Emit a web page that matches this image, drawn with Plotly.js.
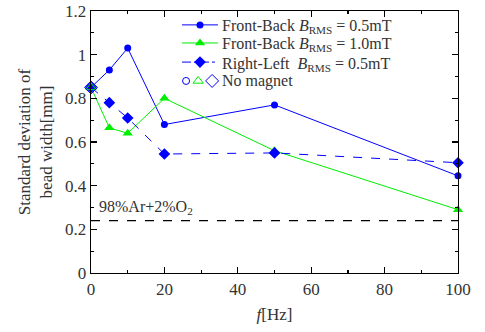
<!DOCTYPE html>
<html><head><meta charset="utf-8">
<script src="https://cdn.plot.ly/plotly-3.0.1.min.js"></script>
<style>body{margin:0;background:#fff}#c{width:485px;height:332px}</style>
</head><body><div id="c"></div>
<script>
const freq = [0, 5, 10, 20, 50, 100];
const fb05 = [0.85, 0.93, 1.03, 0.68, 0.77, 0.445];
const fb10 = [0.85, 0.665, 0.64, 0.80, 0.56, 0.29];
const rl05 = [0.85, 0.78, 0.71, 0.545, 0.55, 0.505];
const noMagnetF = [0];
const noMagnetV = [0.85];
const refX = [0, 100];
const refV = [0.24, 0.24];
const xTicks = [0, 20, 40, 60, 80, 100];
const yTicks = [0, 0.2, 0.4, 0.6, 0.8, 1, 1.2];
const yTickText = ['0', '0.2', '0.4', '0.6', '0.8', '1', '1.2'];
const names = ['Front-Back <i>B</i><sub>RMS</sub> = 0.5mT','Front-Back <i>B</i><sub>RMS</sub> = 1.0mT','Right-Left  <i>B</i><sub>RMS</sub> = 0.5mT','No magnet'];
const BLUE = '#0000ff', GREEN = '#00ee00';
const font = 'Liberation Serif';

// legend layout (paper-fraction positions of the hand-built legend)
const legRows = [0.947, 0.878, 0.805, 0.733];
const legLine = [0.248, 0.346], legMark = 0.297, legText = 0.352;

const traces = [
  {x: refX, y: refV, mode:'lines', line:{color:'#000', width:1.2, dash:'dash'}, showlegend:false},
  {x: freq, y: fb05, mode:'lines+markers', line:{color:BLUE, width:1}, marker:{symbol:'circle', size:7, color:BLUE}, cliponaxis:false, showlegend:false},
  {x: freq, y: fb10, mode:'lines+markers', line:{color:GREEN, width:1}, marker:{symbol:'triangle-up', size:9, color:GREEN}, cliponaxis:false, showlegend:false},
  {x: freq, y: rl05, mode:'lines+markers', line:{color:BLUE, width:1, dash:'dash'}, marker:{symbol:'diamond', size:9, color:BLUE}, cliponaxis:false, showlegend:false},
  {x: noMagnetF, y: noMagnetV, mode:'markers', marker:{symbol:'circle-open', size:7, color:BLUE}, showlegend:false, cliponaxis:false},
  {x: noMagnetF, y: noMagnetV, mode:'markers', marker:{symbol:'triangle-up-open', size:9, color:GREEN}, showlegend:false, cliponaxis:false},
  {x: noMagnetF, y: noMagnetV, mode:'markers', marker:{symbol:'diamond-open', size:10, color:BLUE, line:{width:1}}, showlegend:false, cliponaxis:false},
  // legend glyphs on an overlay [0,1] axis pair
  {x:[legMark], y:[legRows[0]], xaxis:'x2', yaxis:'y2', mode:'markers', marker:{symbol:'circle', size:7, color:BLUE}, showlegend:false, cliponaxis:false},
  {x:[legMark], y:[legRows[1]], xaxis:'x2', yaxis:'y2', mode:'markers', marker:{symbol:'triangle-up', size:9, color:GREEN}, showlegend:false, cliponaxis:false},
  {x:[legMark], y:[legRows[2]], xaxis:'x2', yaxis:'y2', mode:'markers', marker:{symbol:'diamond', size:9, color:BLUE}, showlegend:false, cliponaxis:false},
  {x:[0.259], y:[legRows[3]], xaxis:'x2', yaxis:'y2', mode:'markers', marker:{symbol:'circle-open', size:7, color:BLUE}, showlegend:false, cliponaxis:false},
  {x:[0.292], y:[legRows[3]], xaxis:'x2', yaxis:'y2', mode:'markers', marker:{symbol:'triangle-up-open', size:9, color:GREEN}, showlegend:false, cliponaxis:false},
  {x:[0.330], y:[legRows[3]], xaxis:'x2', yaxis:'y2', mode:'markers', marker:{symbol:'diamond-open', size:10, color:BLUE}, showlegend:false, cliponaxis:false}
];

const minorX = {ticks:'inside', ticklen:3, tickcolor:'#000', dtick:10, tick0:0, showgrid:false};
const minorY = {ticks:'inside', ticklen:3, tickcolor:'#000', dtick:0.1, tick0:0, showgrid:false};
const axisCommon = {
  showline:true, linecolor:'#000', linewidth:1.3, mirror:'ticks', ticks:'inside', ticklen:6, tickcolor:'#000', tickwidth:1.2,
  showgrid:false, zeroline:false, tickfont:{family:font, size:17, color:'#333'}
};

const legShapes = [
  {type:'line', xref:'paper', yref:'paper', x0:legLine[0], x1:legLine[1], y0:legRows[0], y1:legRows[0], line:{color:BLUE, width:1}},
  {type:'line', xref:'paper', yref:'paper', x0:legLine[0], x1:legLine[1], y0:legRows[1], y1:legRows[1], line:{color:GREEN, width:1}},
  {type:'line', xref:'paper', yref:'paper', x0:legLine[0], x1:legLine[1], y0:legRows[2], y1:legRows[2], line:{color:BLUE, width:1, dash:'dashdot'}}
];
const legAnn = names.map((t,i)=>({x:legText, y:legRows[i], xref:'paper', yref:'paper', xanchor:'left', yanchor:'middle', showarrow:false,
  text:t, font:{family:font, size:16, color:'#333'}, yshift: i<3 ? -2 : 0}));

const layout = {
  width:485, height:332,
  margin:{l:91, r:27, t:11, b:59},
  paper_bgcolor:'#fff', plot_bgcolor:'#fff',
  font:{family:font, size:16, color:'#333'},
  showlegend:false,
  xaxis: Object.assign({}, axisCommon, {range:[0,100], tickvals:xTicks, minor:minorX,
     title:{text:'<i>f</i>[Hz]', font:{family:font, size:17, color:'#333'}, standoff:10}}),
  yaxis: Object.assign({}, axisCommon, {range:[0,1.2], tickvals:yTicks, ticktext:yTickText,
     minor:minorY,
     title:{text:'Standard deviation of<br>bead width[mm]', font:{family:font, size:17, color:'#333'}, standoff:8}}),
  xaxis2:{overlaying:'x', range:[0,1], visible:false, fixedrange:true},
  yaxis2:{overlaying:'y', range:[0,1], visible:false, fixedrange:true},
  shapes: legShapes,
  annotations:[
    {x:1.5, y:0.30, xref:'x', yref:'y', xanchor:'left', yanchor:'middle', showarrow:false, text:'98%Ar+2%O<sub>2</sub>', font:{family:font, size:16, color:'#333'}}
  ].concat(legAnn)
};
Plotly.newPlot('c', traces, layout, {displayModeBar:false, staticPlot:true});
</script></body></html>
